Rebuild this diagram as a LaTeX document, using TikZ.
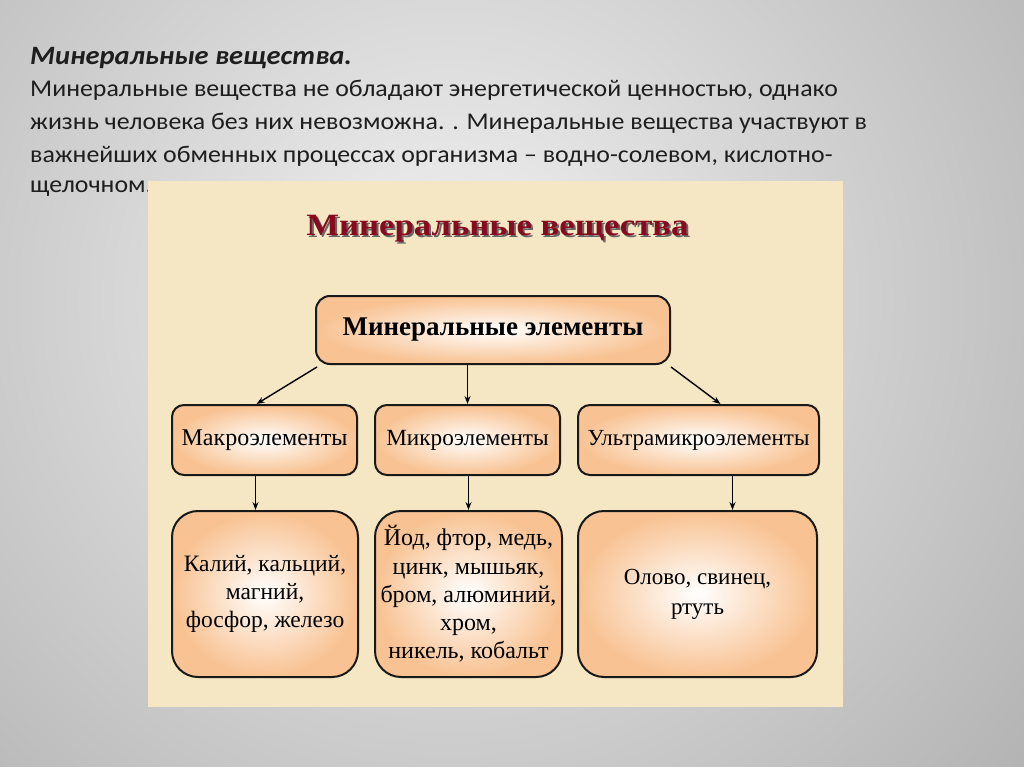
\documentclass[tikz,border=0pt]{standalone}
\usepackage{fontspec}
\setmainfont{Liberation Serif}
\newfontfamily\calfont[FakeStretch=1.077]{Carlito}
\newfontfamily\titfont[FakeStretch=1.12]{Liberation Serif}
\usetikzlibrary{arrows.meta}
\definecolor{peach}{RGB}{248,194,146}
\definecolor{cream}{RGB}{246,231,196}
\definecolor{titlered}{RGB}{135,10,30}
\definecolor{bodytext}{RGB}{30,30,30}
\definecolor{bgin}{RGB}{242,242,242}
\definecolor{bgout}{RGB}{132,132,132}
\pgfdeclareradialshading{bgshade}{\pgfpoint{0bp}{0bp}}{color(0bp)=(bgin); color(50bp)=(bgout)}
\tikzset{
  box/.style={draw=black!90, line width=2pt, shade, inner color=white, outer color=peach,
    align=center, inner sep=0pt, font=\fontsize{24}{28}\selectfont},
  midbox/.style={box, rounded corners=12pt, minimum height=70pt},
  botbox/.style={box, rounded corners=26pt, minimum height=166pt},
  arr/.style={line width=1.4pt, -{Stealth[length=8pt,width=6pt]}},
  slide/.style={anchor=base west, inner sep=0pt, text=bodytext, font=\calfont\fontsize{24}{30}\selectfont},
}
\begin{document}
\begin{tikzpicture}[x=1pt,y=-1pt]
\useasboundingbox (0,0) rectangle (1024,767);
\begin{scope}
\clip (0,0) rectangle (1024,767);
\shade[shading=bgshade] (-200,-350) rectangle (1100,950);
\end{scope}
% slide text
\node[slide, font=\calfont\bfseries\itshape\fontsize{26.5}{30}\selectfont] (l1) at (30,65) {Минеральные вещества.};
\node[slide] (l2) at (30,97) {Минеральные вещества не обладают энергетической ценностью, однако};
\node[slide] (l3) at (30,130) {жизнь человека без них невозможна. . Минеральные вещества участвуют в};
\node[slide] (l4) at (30,163) {важнейших обменных процессах организма – водно-солевом, кислотно-};
\node[slide] (l5) at (30,193) {щелочном.};
% picture
\fill[cream] (148,181) rectangle (843,707);
\node[text=black!60, font=\titfont\bfseries\fontsize{31}{36}\selectfont] (titsh) at (499.5,230.5) {Минеральные вещества};
\node[text=titlered, font=\titfont\bfseries\fontsize{31}{36}\selectfont] (tit) at (497.5,228.5) {Минеральные вещества};
\node[box, rounded corners=14pt, minimum width=354pt, minimum height=68pt,
  font=\bfseries\fontsize{27}{30}\selectfont] (top) at (493,330) {Минеральные элементы};
\node[midbox, minimum width=185pt] (m1) at (264.5,440) {Макроэлементы};
\node[midbox, minimum width=185pt, font=\fontsize{23.2}{28}\selectfont] (m2) at (467.5,440) {Микроэлементы};
\node[midbox, minimum width=241pt, font=\fontsize{23}{28}\selectfont] (m3) at (698.5,440) {Ультрамикроэлементы};
\node[botbox, minimum width=186pt, font=\fontsize{23.5}{28}\selectfont] (b1) at (265,594) {Калий, кальций,\\магний,\\фосфор, железо};
\node[botbox, minimum width=187pt, font=\fontsize{24}{28.3}\selectfont] (b2) at (468.5,594) {Йод, фтор, медь,\\цинк, мышьяк,\\бром, алюминий,\\хром,\\никель, кобальт};
\node[botbox, minimum width=239pt, font=\fontsize{23}{30}\selectfont] (b3) at (697.5,594) {Олово, свинец,\\ртуть};
% connectors
\draw[arr] ([shift={(2,2)}]top.south west) -- ([xshift=-8pt]m1.north);
\draw[arr] (m2.north |- top.south) -- (m2.north);
\draw[arr] ([shift={(0,2)}]top.south east) -- ([xshift=22pt]m3.north);
\draw[arr] ([xshift=-9pt]m1.south) -- ([xshift=-9pt]m1.south |- b1.north);
\draw[arr] ([xshift=1pt]m2.south) -- ([xshift=1pt]m2.south |- b2.north);
\draw[arr] ([xshift=34pt]m3.south) -- ([xshift=34pt]m3.south |- b3.north);
\end{tikzpicture}
\end{document}
